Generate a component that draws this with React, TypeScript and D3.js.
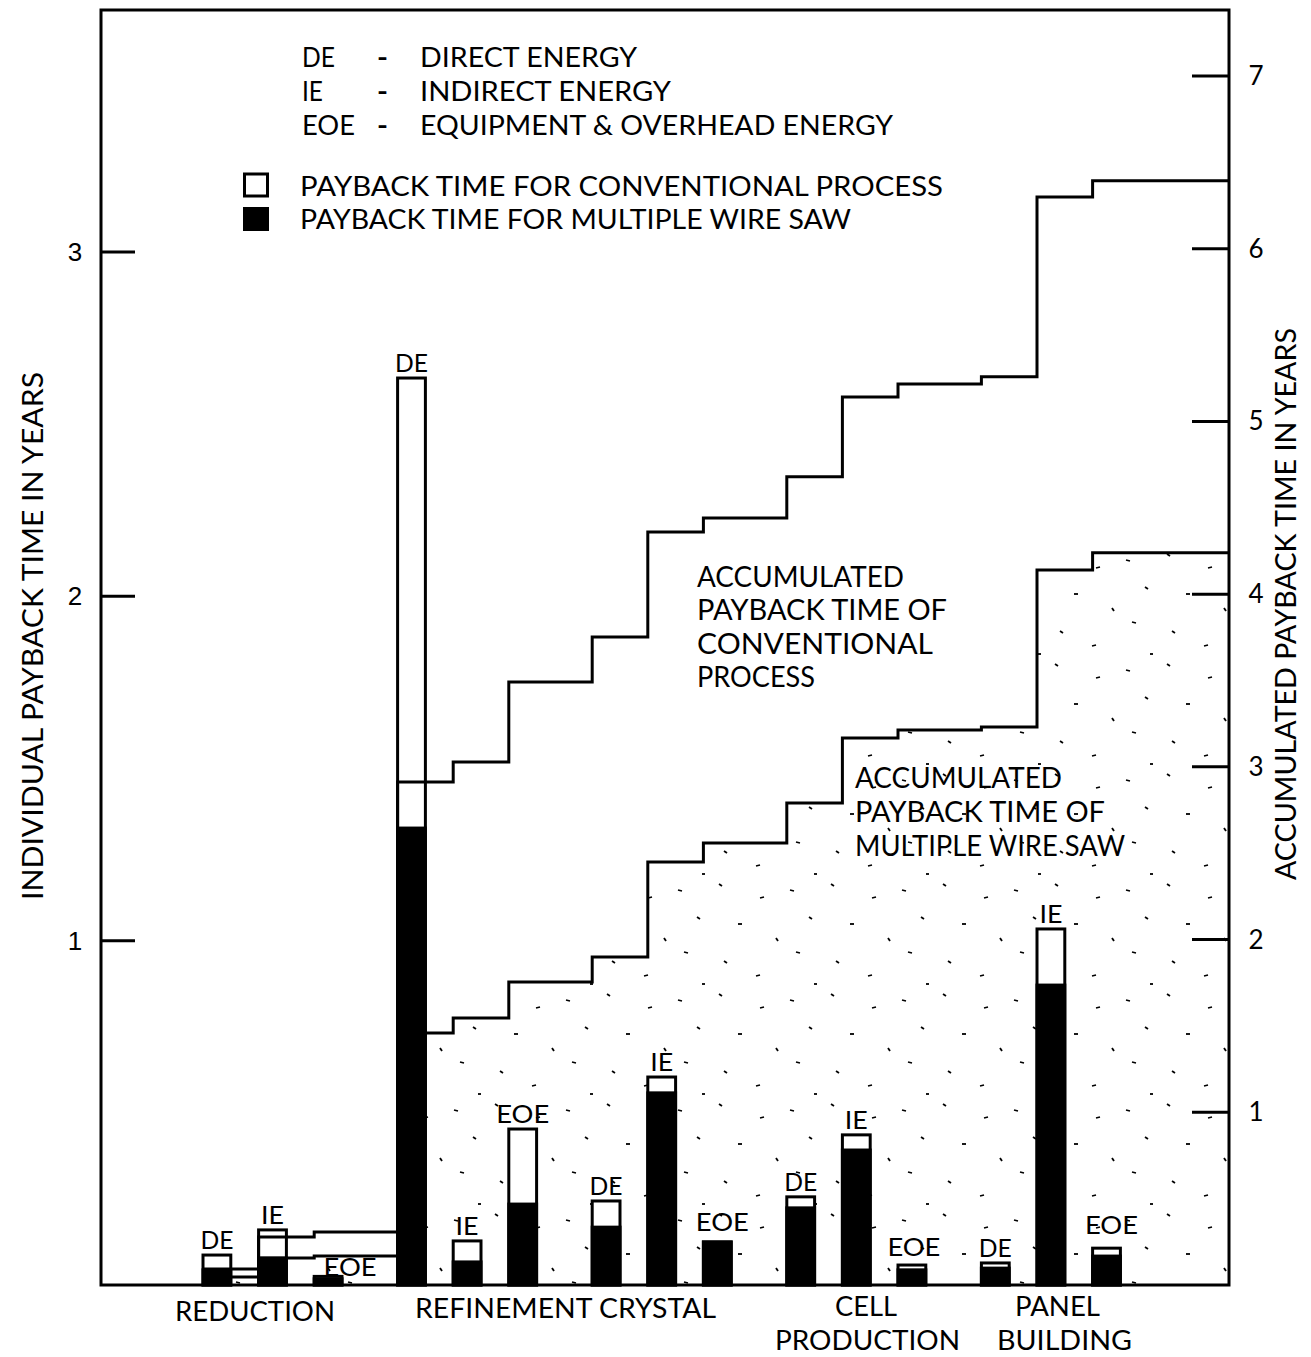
import React from "react";
import * as d3 from "d3";

// ---------- DATA ----------
const groups = ["REDUCTION", "REFINEMENT", "CRYSTAL", "CELL PRODUCTION", "PANEL BUILDING"];
const energyTypes = ["DE", "IE", "EOE"];
// Individual payback time in years (left axis), order: group by group, DE / IE / EOE
const conventional = [0.087, 0.16, 0.025, 2.634, 0.128, 0.453, 0.244, 0.604, 0.125, 0.256, 0.436, 0.058, 0.064, 1.034, 0.107];
const wireSaw = [0.044, 0.078, 0.018, 1.327, 0.067, 0.235, 0.168, 0.558, 0.125, 0.224, 0.392, 0.044, 0.049, 0.871, 0.084];
// Accumulated payback time in years (right axis), after each step
const accumConventional = [0.093, 0.278, 0.307, 2.913, 3.028, 3.492, 3.752, 4.36, 4.441, 4.679, 5.142, 5.217, 5.258, 6.3, 6.393];
const accumWireSaw = [0.046, 0.156, 0.168, 1.459, 1.546, 1.754, 1.899, 2.449, 2.559, 2.791, 3.167, 3.214, 3.231, 4.14, 4.239];
const leftTicks = [1, 2, 3];
const rightTicks = [1, 2, 3, 4, 5, 6, 7];
const legendAbbrev = [
  ["DE", "DIRECT ENERGY"],
  ["IE", "INDIRECT ENERGY"],
  ["EOE", "EQUIPMENT & OVERHEAD ENERGY"],
];
const legendSeries = ["PAYBACK TIME FOR CONVENTIONAL PROCESS", "PAYBACK TIME FOR MULTIPLE WIRE SAW"];

// ---------- LAYOUT ----------
const W = 1311;
const H = 1357;
const FL = 101, FR = 1229, FT = 10, FB = 1285;
const FONT = "Lato, 'DejaVu Sans', sans-serif";

const xSlot = d3.scaleLinear().domain([0, 33]).range([203, 203 + 33 * 27.8]);
const yL = d3.scaleLinear().domain([0, 3]).range([FB, 252]);
const yR = d3.scaleLinear().domain([0, 7]).range([FB, 76]);

const bars = conventional.map((c, i) => {
  const g = Math.floor(i / 3);
  const j = i % 3;
  return { i, group: groups[g], type: energyTypes[j], conv: c, mws: wireSaw[i], slot: g * 7 + j * 2 };
});
const bw = xSlot(1) - xSlot(0);

// label offsets (dx from bar centre, dy from bar top) for a few labels placed beside bars
const labelOffset: Record<number, [number, number]> = {
  2: [22, 6],
  8: [5, -5],
  11: [2, -3],
  14: [5, -8],
};
const labelWidth: Record<string, number> = { DE: 33, IE: 23, EOE: 53 };

function stepPoints(acc: number[]): [number, number][] {
  const pts: [number, number][] = bars.map((b, k) => [xSlot(b.slot), yR(acc[k])]);
  pts.push([FR, yR(acc[acc.length - 1])]);
  return pts;
}

// sparse decorative stipple (fixed positions within one pattern tile)
const stipDots: [number, number, number, number][] = [
  [6, 10, 10, 11], [47, 4, 50, 6], [88, 18, 92, 17], [25, 37, 28, 39],
  [66, 44, 70, 44], [104, 58, 106, 61], [12, 72, 16, 73], [52, 81, 55, 83], [84, 96, 88, 95], [30, 104, 33, 104],
];

export default function App() {
  const line = d3.line<[number, number]>().curve(d3.curveStepAfter);
  const area = d3
    .area<[number, number]>()
    .curve(d3.curveStepAfter)
    .x((d) => d[0])
    .y0(FB)
    .y1((d) => d[1]);
  const convPts = stepPoints(accumConventional);
  const mwsPts = stepPoints(accumWireSaw);

  const txt = (s: string, x: number, y: number, size: number, len?: number, extra: any = {}) => (
    <text
      key={s + x + y}
      x={x}
      y={y}
      fontSize={size}
      fontFamily={FONT}
      fill="#000"
      textLength={len}
      lengthAdjust={len ? "spacingAndGlyphs" : undefined}
      {...extra}
    >
      {s}
    </text>
  );

  return (
    <svg width={W} height={H} style={{ position: "absolute", left: 0, top: 0, background: "#fff" }}>
      <defs>
        <pattern id="stip" width="112" height="110" patternUnits="userSpaceOnUse">
          {stipDots.map((d, k) => (
            <line key={k} x1={d[0]} y1={d[1]} x2={d[2]} y2={d[3]} stroke="#000" strokeWidth={1.8} />
          ))}
        </pattern>
      </defs>
      <rect x={0} y={0} width={W} height={H} fill="#fff" />

      {/* stippled area under accumulated wire-saw curve */}
      <path d={area(mwsPts) || ""} fill="url(#stip)" />

      {/* bars */}
      {bars.map((b) => {
        const x0 = xSlot(b.slot);
        return (
          <g key={b.i}>
            <rect x={x0} y={yL(b.conv)} width={bw} height={FB - yL(b.conv)} fill="#fff" stroke="#000" strokeWidth={3} />
            <rect x={x0} y={yL(b.mws)} width={bw} height={FB - yL(b.mws)} fill="#000" stroke="#000" strokeWidth={3} />
          </g>
        );
      })}

      {/* accumulated step lines */}
      <path d={line(convPts) || ""} fill="none" stroke="#000" strokeWidth={3} />
      <path d={line(mwsPts) || ""} fill="none" stroke="#000" strokeWidth={3} />

      {/* frame */}
      <rect x={FL} y={FT} width={FR - FL} height={FB - FT} fill="none" stroke="#000" strokeWidth={3} />
      {leftTicks.map((t) => (
        <g key={"l" + t}>
          <line x1={FL} x2={FL + 34} y1={yL(t)} y2={yL(t)} stroke="#000" strokeWidth={3} />
          <text x={75} y={yL(t) + 9} fontSize={26} fontFamily="'Liberation Sans', Arial, sans-serif" textAnchor="middle">
            {t}
          </text>
        </g>
      ))}
      {rightTicks.map((t) => (
        <g key={"r" + t}>
          <line x1={FR - 37} x2={FR} y1={yR(t)} y2={yR(t)} stroke="#000" strokeWidth={3} />
          <text x={1256} y={yR(t) + 9} fontSize={26} fontFamily={FONT} textAnchor="middle">
            {t}
          </text>
        </g>
      ))}

      {/* bar labels */}
      {bars.map((b) => {
        const off = labelOffset[b.i] || [0, 0];
        const cx = xSlot(b.slot) + bw / 2 + off[0];
        const w = labelWidth[b.type];
        return txt(b.type, cx - w / 2, yL(b.conv) - 6 + off[1], 25, w);
      })}

      {/* legend */}
      {legendAbbrev.map((d, k) => {
        const ys = [67, 101, 135][k];
        const lens = [217, 251, 473][k];
        return (
          <g key={"lg" + k}>
            {txt(d[0], 302, ys, 27, [33, 21, 53][k])}
            {txt("-", 377, ys, 27, 11, { fontWeight: 700 })}
            {txt(d[1], 420, ys, 27, lens)}
          </g>
        );
      })}
      <rect x={244.5} y={174} width={23} height={22} fill="#fff" stroke="#000" strokeWidth={3} />
      <rect x={243} y={207} width={26} height={24} fill="#000" />
      {txt(legendSeries[0], 300, 196, 27, 643)}
      {txt(legendSeries[1], 300, 229, 27, 551)}

      {/* annotations */}
      {txt("ACCUMULATED", 697, 587, 28, 207)}
      {txt("PAYBACK TIME OF", 697, 620, 28, 250)}
      {txt("CONVENTIONAL", 697, 654, 28, 236)}
      {txt("PROCESS", 697, 687, 28, 118)}
      {txt("ACCUMULATED", 855, 788, 28, 207)}
      {txt("PAYBACK TIME OF", 855, 822, 28, 250)}
      {txt("MULTIPLE WIRE SAW", 855, 856, 28, 270)}

      {/* category labels */}
      {txt("REDUCTION", 175, 1321, 27, 160)}
      {txt("REFINEMENT CRYSTAL", 415, 1318, 27, 301)}
      {txt("CELL", 835, 1316, 27, 62)}
      {txt("PRODUCTION", 775, 1350, 27, 185)}
      {txt("PANEL", 1015, 1316, 27, 85)}
      {txt("BUILDING", 997, 1350, 27, 135)}

      {/* axis titles */}
      <text
        transform="translate(43,900) rotate(-90)"
        fontSize={28}
        fontFamily={FONT}
        textLength={528}
        lengthAdjust="spacingAndGlyphs"
      >
        INDIVIDUAL PAYBACK TIME IN YEARS
      </text>
      <text
        transform="translate(1296,880) rotate(-90)"
        fontSize={28}
        fontFamily={FONT}
        textLength={552}
        lengthAdjust="spacingAndGlyphs"
      >
        ACCUMULATED PAYBACK TIME IN YEARS
      </text>
    </svg>
  );
}
